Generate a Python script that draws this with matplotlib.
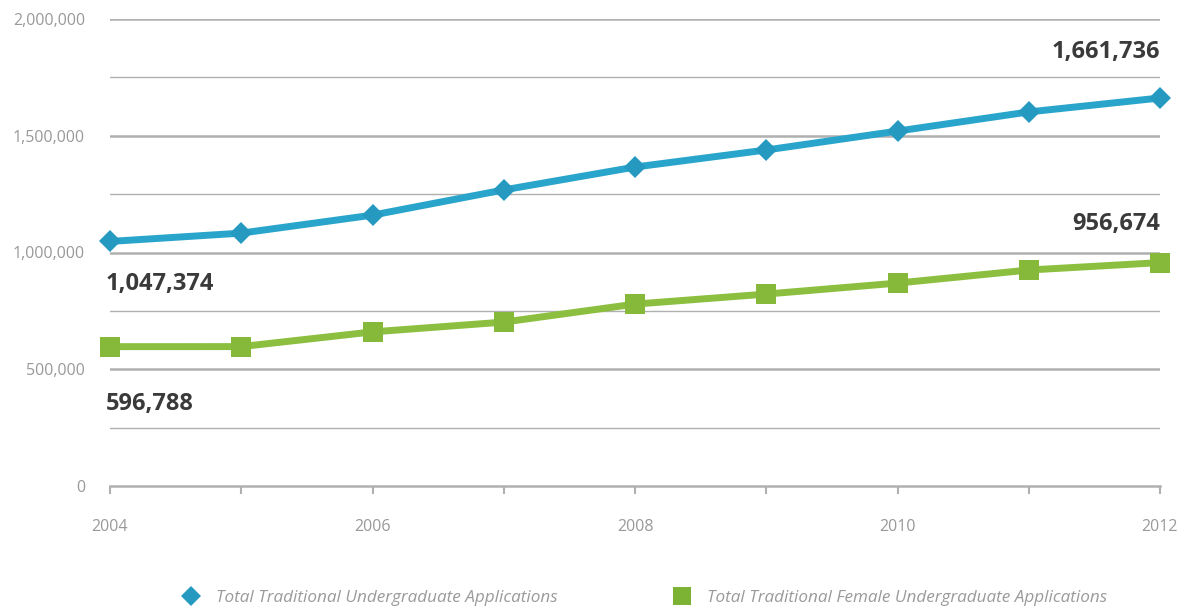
import matplotlib.pyplot as plt
from matplotlib.ticker import FuncFormatter
from matplotlib.lines import Line2D

years = [2004, 2005, 2006, 2007, 2008, 2009, 2010, 2011, 2012]
total_apps = [1047374, 1083000, 1160000, 1268000, 1366000, 1439000, 1520000, 1602000, 1661736]
female_apps = [596788, 597000, 660000, 702000, 779000, 822000, 869000, 925000, 956674]
labels = ["Total Traditional Undergraduate Applications",
          "Total Traditional Female Undergraduate Applications"]

blue = "#29a5cb"
green = "#8cbf3f"
grid_c = "#b0b0b0"
tick_c = "#999999"

plt.rcParams['font.family'] = ['Open Sans', 'DejaVu Sans']

fig = plt.figure(figsize=(11.84, 6.08), dpi=100)
ax = fig.add_axes([110 / 1184, 1 - 486 / 608, 1050 / 1184, 467 / 608])

# grid: thick at major, thin at minor
for v in range(250000, 2000001, 250000):
    major = v % 500000 == 0
    ax.axhline(v, color=grid_c, lw=1.8 if major else 1.0, zorder=1)

ax.plot(years, total_apps, color=blue, lw=5, marker="D", markersize=11,
        markerfacecolor="#2599c0", markeredgewidth=0, zorder=3, clip_on=False)
ax.plot(years, female_apps, color=green, lw=5, marker="s", markersize=14,
        markerfacecolor="#86b83a", markeredgewidth=0, zorder=3, clip_on=False)

ax.set_xlim(2004, 2012)
ax.set_ylim(0, 2000000)
ax.set_yticks(range(0, 2000001, 500000))
ax.yaxis.set_major_formatter(FuncFormatter(lambda v, p: f"{int(v):,}"))
ax.set_xticks(years)
ax.set_xticklabels([str(y) if y % 2 == 0 else "" for y in years])

for s in ["top", "right", "left"]:
    ax.spines[s].set_visible(False)
ax.spines["bottom"].set_color(grid_c)
ax.spines["bottom"].set_linewidth(1.8)
ax.tick_params(axis="y", length=0, pad=18, labelsize=11.5, labelcolor=tick_c)
ax.tick_params(axis="x", length=6, width=1.5, color=grid_c, pad=18,
               labelsize=11.5, labelcolor=tick_c)

# value labels
lab = dict(fontsize=17, fontweight="bold", color="#3a3a3a")
ax.annotate(f"{total_apps[0]:,}", (years[0], total_apps[0]), xytext=(-3, -31),
            textcoords="offset points", ha="left", va="center", **lab)
ax.annotate(f"{female_apps[0]:,}", (years[0], female_apps[0]), xytext=(-3, -41),
            textcoords="offset points", ha="left", va="center", **lab)
ax.annotate(f"{total_apps[-1]:,}", (years[-1], total_apps[-1]), xytext=(0, 33),
            textcoords="offset points", ha="right", va="center", **lab)
ax.annotate(f"{female_apps[-1]:,}", (years[-1], female_apps[-1]), xytext=(0, 28),
            textcoords="offset points", ha="right", va="center", **lab)

handles = [Line2D([], [], ls="none", marker="D", markersize=10, color="#2599c0", markeredgewidth=0),
           Line2D([], [], ls="none", marker="s", markersize=13, color="#7db334", markeredgewidth=0)]
leg = fig.legend(handles, labels, loc="center", bbox_to_anchor=(0.541, 0.016), ncol=2,
                 frameon=False, columnspacing=6.3, handletextpad=0.45,
                 prop=dict(size=12.3, style="italic"))
for t in leg.get_texts():
    t.set_color("#9a9a9a")

fig.savefig("out.png", dpi=100)
